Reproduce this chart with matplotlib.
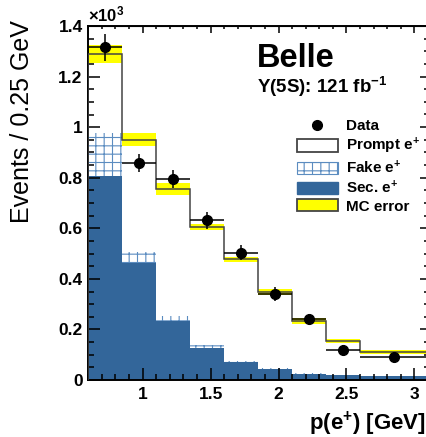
import matplotlib
matplotlib.use("Agg")
import matplotlib.pyplot as plt
import numpy as np
from matplotlib.patches import Patch
from matplotlib.lines import Line2D
from matplotlib.ticker import MultipleLocator, FuncFormatter

# Belle positron momentum spectrum, Y(5S) data vs MC (values in units of 10^3)

bin_edges = [0.6, 0.85, 1.1, 1.35, 1.6, 1.85, 2.1, 2.35, 2.6, 3.1]
data_vals = [1.316, 0.858, 0.795, 0.631, 0.504, 0.339, 0.242, 0.119, 0.090]
data_errs = [0.053, 0.036, 0.036, 0.035, 0.030, 0.027, 0.018, 0.020, 0.015]
mc_total = [1.290, 0.950, 0.757, 0.605, 0.478, 0.348, 0.234, 0.153, 0.110]
mc_errs = [0.035, 0.025, 0.024, 0.013, 0.010, 0.011, 0.011, 0.008, 0.007]
sec_vals = [0.805, 0.462, 0.232, 0.125, 0.072, 0.045, 0.025, 0.019, 0.015]
fake_vals = [0.172, 0.043, 0.023, 0.012, 0.004, 0.002, 0.001, 0.001, 0.000]

legend_labels = ["Data", "Prompt e$^{+}$", "Fake e$^{+}$", "Sec. e$^{+}$", "MC error"]
x_ticks = [1, 1.5, 2, 2.5, 3]

blue = "#33669a"
hatch_blue = "#5b8cc0"
yellow = "#ffff00"
line_gray = "#444444"

plt.rcParams["font.family"] = ["Liberation Sans", "DejaVu Sans"]
plt.rcParams["mathtext.fontset"] = "custom"
plt.rcParams["mathtext.rm"] = "Liberation Sans:bold"
plt.rcParams["mathtext.bf"] = "Liberation Sans:bold"
plt.rcParams["mathtext.default"] = "bf"
plt.rcParams["hatch.linewidth"] = 0.8

W, H = 427, 437
fig = plt.figure(figsize=(W / 100, H / 100), dpi=100)
# axes box in pixels: left 88, right 428 (just off the image), top 26, bottom 380
ax = fig.add_axes([88.3 / W, (H - 380) / H, (428 - 88.3) / W, (380 - 26) / H])

edges = np.array(bin_edges)
lefts = edges[:-1]
widths = np.diff(edges)
centers = lefts + widths / 2
sec = np.array(sec_vals)
fake = np.array(fake_vals)
mc = np.array(mc_total)
mce = np.array(mc_errs)

# stacked MC components
ax.bar(lefts, sec, widths, align="edge", color=blue, linewidth=0, zorder=1)
ax.bar(lefts, fake, widths, bottom=sec, align="edge", facecolor="white",
       edgecolor=hatch_blue, hatch="++", linewidth=0, zorder=1)
# MC stat error band
ax.bar(lefts, 2 * mce, widths, bottom=mc - mce, align="edge", color=yellow,
       linewidth=0, zorder=2)
ax.stairs(mc, edges, color=line_gray, linewidth=1.1, zorder=3)

# data points
ax.errorbar(centers, data_vals, yerr=data_errs, xerr=widths / 2, fmt="o",
            color="black", markersize=7, elinewidth=1.1, capsize=0, zorder=4)

ax.set_xlim(0.6, 3.1)
ax.set_ylim(0, 1.4)
ax.set_xticks(x_ticks)
ax.xaxis.set_minor_locator(MultipleLocator(0.1))
ax.yaxis.set_major_locator(MultipleLocator(0.2))
ax.yaxis.set_minor_locator(MultipleLocator(0.05))
fmt = FuncFormatter(lambda v, p: "%g" % round(v, 2))
ax.xaxis.set_major_formatter(fmt)
ax.yaxis.set_major_formatter(fmt)
ax.tick_params(which="both", direction="in", width=1.1, labelsize=12.5)
ax.tick_params(which="major", length=8.5)
ax.tick_params(which="minor", length=4.5)
ax.tick_params(axis="x", pad=5)
ax.tick_params(axis="y", pad=4)
for lab in ax.get_xticklabels() + ax.get_yticklabels():
    lab.set_fontweight("bold")
for s in ax.spines.values():
    s.set_linewidth(1.4)

# shorter ticks on the top and right side, like ROOT
top = ax.secondary_xaxis("top")
top.set_xticks(x_ticks)
top.xaxis.set_minor_locator(MultipleLocator(0.1))
top.tick_params(which="both", direction="in", width=1.1, labeltop=False)
top.tick_params(which="major", length=5)
top.tick_params(which="minor", length=2.5)
right = ax.secondary_yaxis("right")
right.yaxis.set_major_locator(MultipleLocator(0.2))
right.yaxis.set_minor_locator(MultipleLocator(0.05))
right.tick_params(which="both", direction="in", width=1.1, labelright=False)
right.tick_params(which="major", length=6)
right.tick_params(which="minor", length=3)

# labels
fig.text(22 / W, 1 - 20 / H, "Events / 0.25 GeV", rotation=90, ha="center",
         va="top", fontsize=18)
fig.text(88 / W, 1 - 21 / H, "×10$^{3}$", ha="left", va="baseline", fontsize=12,
         fontweight="bold")
fig.text(426 / W, 1 - 430 / H, "p(e$^{+}$) [GeV]", ha="right", va="baseline",
         fontsize=16, fontweight="bold")
fig.text(257 / W, 1 - 67 / H, "Belle", ha="left", va="baseline", fontsize=23.5,
         fontweight="bold")
fig.text(257 / W, 1 - 93 / H, "Υ(5S): 121 fb$^{-1}$", ha="left", va="baseline",
         fontsize=13.5, fontweight="bold")

handles = [
    Line2D([], [], marker="o", color="black", linestyle="none", markersize=7),
    Patch(facecolor="white", edgecolor=line_gray, linewidth=1.3),
    Patch(facecolor="white", edgecolor=hatch_blue, hatch="++", linewidth=0.8),
    Patch(facecolor=blue, edgecolor=blue),
    Patch(facecolor=yellow, edgecolor=line_gray, linewidth=1.3),
]
fs = 11
leg = fig.legend(handles, legend_labels, loc="upper left",
                 bbox_to_anchor=(297 / W, 1 - 119 / H), frameon=False,
                 fontsize=fs, borderpad=0, borderaxespad=0,
                 handlelength=41 / (fs * 100 / 72), handleheight=0.85,
                 handletextpad=0.5, labelspacing=0.18,
                 prop={"weight": "bold", "size": fs})

fig.savefig("out.png", dpi=100)
